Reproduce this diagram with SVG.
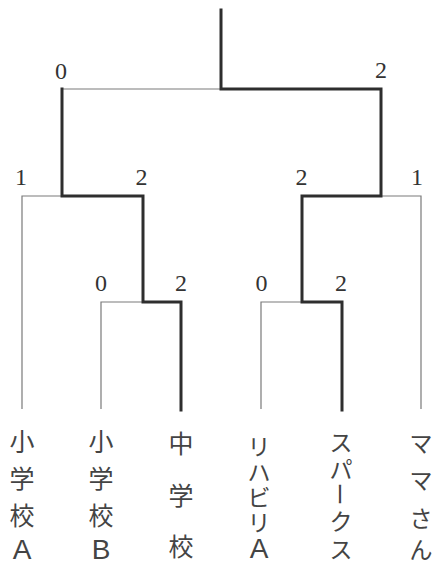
<svg xmlns="http://www.w3.org/2000/svg" width="436" height="567" viewBox="0 0 436 567">
<style>
.win{fill:none;stroke:#2e2e2e;stroke-width:3;stroke-linecap:square;stroke-linejoin:miter}
.lose{fill:none;stroke:#7a7a7a;stroke-width:1.2}
.score{font-family:"Liberation Serif","DejaVu Serif",serif;font-size:24px;fill:#333;text-anchor:middle;dominant-baseline:central}
.name{font-family:"Noto Sans CJK JP","Noto Sans",sans-serif;font-size:25px;fill:#444;text-anchor:middle;dominant-baseline:central}
.kana{font-size:23px}
.lat{font-family:"Liberation Sans","Noto Sans",sans-serif;font-size:28px}
</style>
<rect width="436" height="567" fill="#fff"/>
<g id="connectors">
<path class="lose" d="M62,89 H221"/>
<path class="lose" d="M22,409 V196 H62"/>
<path class="lose" d="M381,196 H421 V409"/>
<path class="lose" d="M101,409 V302 H143"/>
<path class="lose" d="M261,409 V302 H302"/>
<path class="win" d="M221,10 V89 H381 V196 H302 V302 H342 V410"/>
<path class="win" d="M62,89 V196 H143 V302 H181 V410"/>
</g>
<g id="scores">
<text class="score" x="61" y="71">0</text>
<text class="score" x="381" y="70">2</text>
<text class="score" x="21" y="177">1</text>
<text class="score" x="141.5" y="177">2</text>
<text class="score" x="301.5" y="177">2</text>
<text class="score" x="417" y="177">1</text>
<text class="score" x="101" y="283">0</text>
<text class="score" x="181" y="283">2</text>
<text class="score" x="261.5" y="283">0</text>
<text class="score" x="341" y="283">2</text>
</g>
<g id="team-a">
<text class="name" x="22" y="440">小</text>
<text class="name" x="22" y="477">学</text>
<text class="name" x="22" y="514">校</text>
<text class="name lat" x="22" y="549">A</text>
</g>
<g id="team-b">
<text class="name" x="101" y="440">小</text>
<text class="name" x="101" y="477">学</text>
<text class="name" x="101" y="514">校</text>
<text class="name lat" x="101" y="549">B</text>
</g>
<g id="team-c">
<text class="name" x="181" y="442">中</text>
<text class="name" x="181" y="494">学</text>
<text class="name" x="181" y="545">校</text>
</g>
<g id="team-d">
<text class="name kana" x="259" y="445">リ</text>
<text class="name kana" x="259" y="471">ハ</text>
<text class="name kana" x="259" y="496">ビ</text>
<text class="name kana" x="259" y="521">リ</text>
<text class="name lat" x="259" y="548">A</text>
</g>
<g id="team-e">
<text class="name kana" x="341" y="441">ス</text>
<text class="name kana" x="341" y="468">パ</text>
<text class="name kana" x="341" y="494" transform="rotate(90 341 494)">ー</text>
<text class="name kana" x="341" y="520">ク</text>
<text class="name kana" x="341" y="548">ス</text>
</g>
<g id="team-f">
<text class="name kana" x="421" y="442">マ</text>
<text class="name kana" x="421" y="479">マ</text>
<text class="name kana" x="421" y="517">さ</text>
<text class="name kana" x="421" y="548">ん</text>
</g>
</svg>
